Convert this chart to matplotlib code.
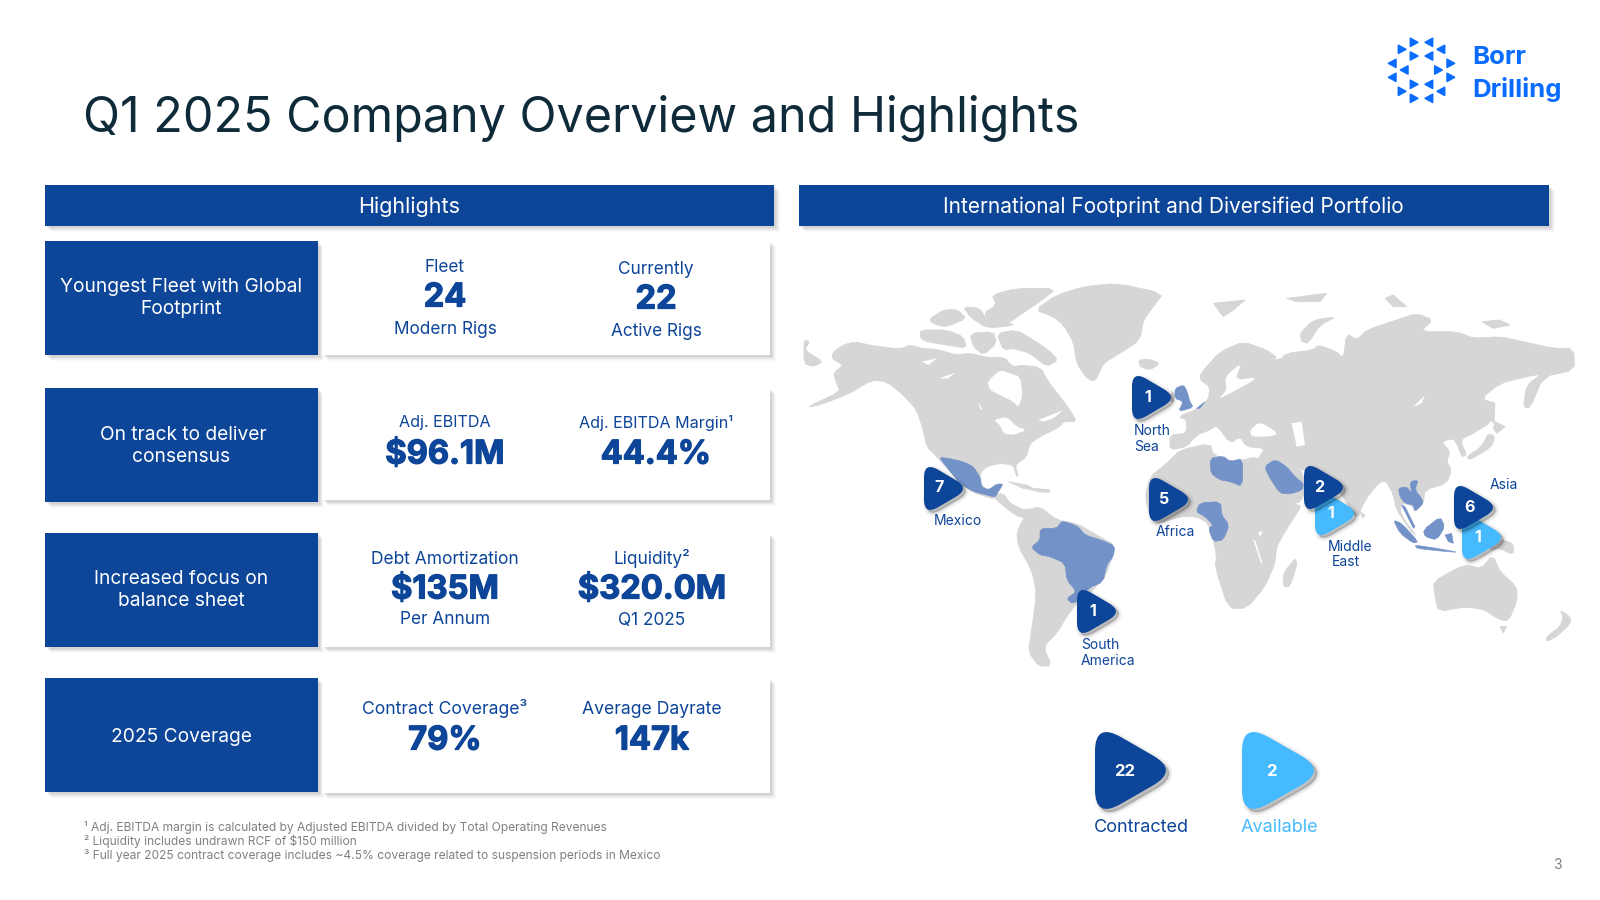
import matplotlib
matplotlib.use("Agg")
import matplotlib.pyplot as plt
import matplotlib.patheffects as pe
from matplotlib.patches import Rectangle, PathPatch, Polygon
from matplotlib.path import Path
from matplotlib.transforms import Affine2D

FONT = ["Inter", "DejaVu Sans"]
plt.rcParams["font.family"] = FONT

NAVY = "#0D4599"; SKY = "#45BAFF"; GREY = "#D6D6D6"; MAPBLUE = "#7292C8"; LOGO = "#0A6CFF"; TITLE = "#0F2B3A"

title = "Q1 2025 Company Overview and Highlights"
header_left = "Highlights"
header_right = "International Footprint and Diversified Portfolio"
row_titles = [["Youngest Fleet with Global", "Footprint"], ["On track to deliver", "consensus"],
              ["Increased focus on", "balance sheet"], ["2025 Coverage"]]
col1_top = ["Fleet", "Adj. EBITDA", "Debt Amortization", "Contract Coverage³"]
col1_val = ["24", "$96.1M", "$135M", "79%"]
col1_bot = ["Modern Rigs", "", "Per Annum", ""]
col2_top = ["Currently", "Adj. EBITDA Margin¹", "Liquidity²", "Average Dayrate"]
col2_val = ["22", "44.4%", "$320.0M", "147k"]
col2_bot = ["Active Rigs", "", "Q1 2025", ""]
footnotes = ["¹ Adj. EBITDA margin is calculated by Adjusted EBITDA divided by Total Operating Revenues",
             "² Liquidity includes undrawn RCF of $150 million",
             "³ Full year 2025 contract coverage includes ~4.5% coverage related to suspension periods in Mexico"]
contracted_total = 22
available_total = 2
region_contracted = {"Mexico": 7, "North Sea": 1, "Africa": 5, "Middle East": 2, "Asia": 6, "South America": 1}
region_available = {"Middle East": 1, "Asia": 1}

# World outline. Each group has its own origin; points are at 3x.
A, B, C, D = (800, 270), (1180, 270), (960, 460), (1180, 440)
land = [
 (A, [(100,245),(130,225),(165,215),(220,228),(300,237),(330,225),(365,235),(410,238),(470,255),(510,250),(560,262),(610,262),(640,285),(720,290),(745,335),(780,380),(810,420),(830,455),(790,455),(780,470),(720,500),(690,520),(680,560),(645,585),(655,615),(650,620),(640,585),(600,580),(560,590),(540,610),(545,650),(570,660),(590,690),(520,668),(480,640),(455,610),(415,565),(380,530),(370,480),(350,420),(310,375),(260,335),(215,330),(150,370),(60,405),(20,412),(120,365),(110,340),(100,310),(130,285),(95,265)]),
 (A, [(12,210),(30,215),(12,240),(70,275),(40,290),(12,280)]),
 (A, [(360,180),(440,180),(490,200),(500,235),(440,225),(380,215),(362,205)]),
 (A, [(385,150),(430,120),(470,118),(500,145),(440,170),(410,165)]),
 (A, [(575,75),(650,55),(770,55),(720,95),(660,135),(610,170),(580,170),(550,130),(590,105)]),
 (A, [(490,110),(540,115),(560,150),(600,155),(650,165),(560,175),(510,140)]),
 (A, [(590,190),(650,180),(700,210),(745,240),(775,270),(740,290),(690,250),(640,235),(610,240)]),
 (A, [(510,190),(580,185),(590,220),(550,255),(520,230)]),
 (A, [(705,120),(770,75),(850,50),(950,40),(1090,70),(1060,110),(1030,150),(1020,210),(960,250),(910,280),(885,335),(860,325),(830,280),(820,215),(790,165),(760,140)]),
 (A, [(1015,270),(1050,268),(1080,280),(1050,300),(1020,290)]),
 (C, [(95,105),(130,100),(150,130),(190,150),(215,145),(200,175),(170,168),(130,138)]),
 (C, [(145,65),(200,75),(240,95),(190,85)]),
 (C, [(225,85),(270,90),(268,97),(230,95)]),
 (C, [(170,215),(205,150),(240,140),(290,180),(350,190),(410,225),(465,255),(450,310),(440,340),(400,390),(350,430),(320,470),(290,520),(250,560),(275,618),(235,618),(205,575),(215,510),(230,400),(215,330),(175,260)]),
 (C, [(570,50),(620,10),(660,-30),(750,-50),(760,-15),(820,5),(895,-10),(905,20),(965,130),(1020,135),(1020,145),(975,215),(950,260),(945,310),(915,380),(860,445),(805,445),(765,320),(770,290),(760,240),(745,190),(710,170),(660,170),(600,190),(570,170),(555,110)]),
 (D, [(345,355),(352,370),(330,440),(310,440),(310,400)]),
 (D, [(760,425),(830,385),(860,375),(905,385),(938,345),(960,395),(1010,440),(1012,480),(985,545),(950,535),(915,510),(860,500),(775,515),(765,470)]),
 (D, [(960,560),(980,560),(970,578)]),
 (D, [(1140,510),(1170,530),(1172,550),(1130,590),(1100,605),(1100,590),(1140,560),(1150,530)]),
 (D, [(950,295),(1000,310),(1000,345),(960,325),(925,330)]),
 (D, [(540,215),(555,225),(548,235)]),
 (B, [(-30,540),(-30,495),(20,490),(20,450),(-5,440),(50,418),(85,390),(90,350),(60,330),(62,310),(120,245),(190,215),(260,240),(295,265),(250,265),(300,270),(320,250),(400,240),(415,225),(470,245),(490,265),(500,190),(530,210),(560,180),(650,150),(710,130),(760,150),(720,185),(830,185),(880,205),(960,200),(1030,215),(1120,235),(1180,235),(1185,300),(1090,320),(1050,415),(1030,410),(1040,345),(1085,312),(1040,320),(960,340),(905,385),(940,400),(935,455),(880,490),(840,510),(860,555),(845,560),(835,530),(820,505),(785,515),(810,545),(800,575),(815,600),(800,640),(735,660),(730,700),(705,725),(695,705),(665,700),(660,730),(710,800),(690,780),(650,720),(640,675),(620,635),(600,635),(555,690),(530,750),(490,680),(440,620),(365,600),(340,580),(370,610),(372,690),(310,715),(250,595),(235,565),(255,535),(200,530),(180,500),(150,520),(110,465),(90,480),(50,495),(20,530)]),
 (B, [(360,190),(400,150),(470,140),(420,165),(385,220),(365,215)]),
 (B, [(100,100),(195,90),(160,120),(130,140)]),
 (B, [(320,85),(440,70),(420,95),(350,95)]),
 (B, [(615,85),(640,75),(680,110),(640,110)]),
 (B, [(905,155),(960,150),(990,165),(940,175)]),
 (B, [(925,490),(945,500),(935,530),(870,570),(860,560),(905,530)]),
 (B, [(945,455),(975,470),(950,490),(940,475)]),
 (B, [(935,395),(945,400),(942,460),(932,450)]),
 (A, [(1115,365),(1125,372),(1120,395),(1108,392)]),
]
water = [
 (A, [(562,335),(600,300),(630,310),(660,320),(668,375),(655,412),(640,395),(600,375),(570,360)]),
 (A, [(640,240),(690,250),(680,280),(640,290),(620,270)]),
 (A, [(418,325),(465,308),(445,325)]),
 (A, [(365,275),(410,265),(385,285)]),
 (A, [(580,450),(620,440),(650,470),(680,480),(640,495),(610,490),(600,465)]),
 (A, [(535,395),(548,420),(540,415)]),
 (A, [(715,450),(790,420),(760,445),(730,455)]),
 (A, [(435,570),(445,578),(490,640),(478,640)]),
 (B, [(135,320),(185,278),(165,330),(235,322),(170,360),(115,388),(140,360)]),
 (B, [(210,480),(240,455),(295,490),(270,500),(215,500)]),
 (B, [(335,460),(365,455),(375,525),(350,530)]),
 (B, [(700,410),(735,375),(725,400)]),
 (C, [(895,215),(908,215),(900,230)]),
 (C, [(880,240),(885,240),(908,310),(903,310)]),
]
highlighted = [
 (A, [(418,562),(445,565),(490,575),(520,590),(540,620),(545,650),(565,660),(590,642),(610,642),(595,665),(585,682),(560,675),(520,665),(480,640),(455,610),(435,585)]),
 (C, [(213,262),(240,240),(240,205),(290,205),(305,183),(330,190),(355,200),(375,225),(425,240),(465,258),(460,290),(440,315),(430,365),(385,385),(350,425),(335,430),(320,415),(350,395),(320,360),(315,310),(270,290),(240,285)]),
 (B, [(90,565),(130,558),(150,575),(188,565),(188,650),(150,635),(120,630),(92,610)]),
 (C, [(708,155),(720,128),(782,125),(785,165),(808,195),(790,240),(760,245),(745,205),(760,195),(735,170)]),
 (B, [(253,590),(285,568),(320,590),(345,620),(370,640),(368,660),(330,672),(300,670),(270,625)]),
 (D, [(655,145),(680,140),(695,160),(690,125),(715,120),(705,150),(725,175),(730,190),(705,215),(700,195),(675,190),(660,170)]),
 (D, [(640,240),(665,250),(715,305),(700,310),(660,280)]),
 (D, [(730,270),(780,230),(795,260),(770,300),(735,290)]),
 (D, [(705,315),(770,325),(840,338),(770,332),(710,325)]),
 (D, [(795,285),(815,280),(820,310),(805,305)]),
 (D, [(665,195),(675,200),(705,260),(700,265)]),
 (A, [(1150,345),(1160,360),(1170,395),(1180,412),(1135,425),(1150,395),(1125,385),(1125,355)]),
 (B, [(50,415),(75,395),(60,415)]),
]

fig = plt.figure(figsize=(16, 9), dpi=100, facecolor="white")
ax = fig.add_axes([0, 0, 1, 1]); ax.set_xlim(0, 1600); ax.set_ylim(900, 0); ax.axis("off")

def T(a, x, y, s, size, color=NAVY, weight="normal", ha="center", heavy=0, **kw):
    t = a.text(x, y, s, fontsize=size, color=color, fontweight=weight, ha=ha, va="center", **kw)
    if heavy:
        t.set_path_effects([pe.withStroke(linewidth=heavy, foreground=color)])

def box(x0, y0, x1, y1, fc):
    for o, al in [(6, .03), (5, .04), (4, .05), (3, .07), (2, .08)]:
        ax.add_patch(Rectangle((x0 + o, y0 + o), x1 - x0, y1 - y0, fc="#555555", alpha=al, ec="none", zorder=1))
    ax.add_patch(Rectangle((x0, y0), x1 - x0, y1 - y0, fc=fc, ec="none", zorder=2))

def tri_path(x0, y0, x1, y1):
    d = .36; dx, dy = d * .857, d * .514
    v = [(0, d), (0, 0), (dx, dy), (1 - dx, .6 - dy), (1, .6), (1 - dx, .6 + dy), (dx, 1.2 - dy), (0, 1.2), (0, 1.2 - d), (0, d)]
    c = [Path.MOVETO, Path.CURVE3, Path.CURVE3, Path.LINETO, Path.CURVE3, Path.CURVE3, Path.LINETO, Path.CURVE3, Path.CURVE3, Path.CLOSEPOLY]
    p = Path(v, c)
    e = p.get_extents()
    return p.transformed(Affine2D().translate(-e.x0, -e.y0).scale((x1 - x0) / e.width, (y1 - y0) / e.height).translate(x0, y0))

def marker(x0, y0, x1, y1, color, off, z):
    p = tri_path(x0, y0, x1, y1)
    for lw, al in [(6, .02), (4.5, .03), (3, .045), (1.5, .06), (.5, .07)]:
        ax.add_patch(PathPatch(p.transformed(Affine2D().translate(off, off)), fc=(0, 0, 0, al), ec=(0, 0, 0, al), lw=lw, zorder=z))
    ax.add_patch(PathPatch(p, fc=color, ec="none", zorder=z + .1))

# title and logo
T(ax, 83, 118.5, title, 34.9, TITLE, ha="left")
right_tris = [(126,88),(162,67),(162,108),(272,130),(272,172),(235,150),(126,214),(162,193),(162,235)]
left_tris = [(207,67),(243,88),(207,108),(97,130),(97,172),(133,150),(243,214),(207,193),(207,235)]
for (zx, zy) in right_tris:
    x, y = 1360 + zx / 3, 20 + zy / 3
    ax.add_patch(Polygon([(x - 3.6, y - 4), (x + 3.8, y), (x - 3.6, y + 4)], fc=LOGO, ec=LOGO, lw=1.2, joinstyle="round"))
for (zx, zy) in left_tris:
    x, y = 1360 + zx / 3, 20 + zy / 3
    ax.add_patch(Polygon([(x + 3.6, y - 4), (x - 3.8, y), (x + 3.6, y + 4)], fc=LOGO, ec=LOGO, lw=1.2, joinstyle="round"))
T(ax, 1472, 57.5, "Borr", 18.6, LOGO, "bold", ha="left")
T(ax, 1472, 89, "Drilling", 18.6, LOGO, "bold", ha="left")

# headers
box(45, 185, 774, 226, NAVY); box(798.5, 185, 1549, 226, NAVY)
T(ax, 409, 206.5, header_left, 15.5, "white", zorder=5)
T(ax, 1173, 206.5, header_right, 15, "white", zorder=5)

# rows
tops = [241, 388, 533, 678]; bots = [355, 502, 647, 792]; cbots = [355, 500, 647, 793]
title_y = [[287.5, 309.5], [434.5, 456.5], [579.5, 600.5], [736.5]]
title_x = [[181, 181], [183, 181], [181, 181], [181]]
top_y = [[268, 270], [423, 423], [559, 559], [709, 710]]
val_y = [[298, 300], [455, 455], [590, 590], [741, 741]]
bot_y = [[329, 331], [0, 0], [620, 621], [0, 0]]
cx1 = [445, 445, 445, 445]; cx2 = [656, 656, 652, 652]
top_size = [12.4, 11.6, 12.5, 12.7]
for i in range(4):
    box(322, tops[i], 770, cbots[i], "white")
    box(45, tops[i], 318, bots[i], NAVY)
    for s, x, y in zip(row_titles[i], title_x[i], title_y[i]):
        T(ax, x, y, s, 13.8, "white", zorder=5)
    for x, a, b, c, ys in ((cx1[i], col1_top[i], col1_val[i], col1_bot[i], 0), (cx2[i], col2_top[i], col2_val[i], col2_bot[i], 1)):
        T(ax, x, top_y[i][ys], a, top_size[i], zorder=5)
        T(ax, x, val_y[i][ys], b, 23.5, weight="bold", heavy=.9, zorder=5)
        if c:
            T(ax, x, bot_y[i][ys], c, 12.4, zorder=5)

# footnotes and page number
for s, y in zip(footnotes, [827, 841, 855]):
    T(ax, 84, y, s, 8.65, "#808080", ha="left")
T(ax, 1557, 865, "3", 10, "#808080")

# map
def px(group, smooth=True):
    (ox, oy), pts = group
    pts = [(ox + x / 3, oy + y / 3) for x, y in pts]
    if not smooth or len(pts) < 5:
        return pts
    out = []
    for (x0, y0), (x1, y1) in zip(pts, pts[1:] + pts[:1]):
        out += [(.8 * x0 + .2 * x1, .8 * y0 + .2 * y1), (.2 * x0 + .8 * x1, .2 * y0 + .8 * y1)]
    return out
for g in land:
    ax.add_patch(Polygon(px(g), fc=GREY, ec=GREY, lw=.6, joinstyle="round", zorder=2))
for g in water:
    ax.add_patch(Polygon(px(g), fc="white", ec="none", zorder=2.5))
for g in highlighted:
    ax.add_patch(Polygon(px(g), fc=MAPBLUE, ec=MAPBLUE, lw=.4, joinstyle="round", zorder=3))

# (left, top) of each marker
pos_dark = {"Mexico": (924, 467), "North Sea": (1132, 376), "Africa": (1149, 478), "Middle East": (1304, 466), "Asia": (1454, 486), "South America": (1077, 590)}
pos_light = {"Middle East": (1315, 492), "Asia": (1462, 516)}
for k, v in region_available.items():
    x, y = pos_light[k]
    marker(x, y, x + 39, y + 43, SKY, 2.5, 4)
    T(ax, x + 15.5, y + 21, str(v), 11.5, "white", "bold", zorder=7)
for k, v in region_contracted.items():
    x, y = pos_dark[k]
    marker(x, y, x + 39, y + 43, NAVY, 2.5, 5)
    T(ax, x + 15.5, y + 21, str(v), 11.5, "white", "bold", zorder=7)
for s, x, y, ha in [("Mexico", 958, 521, "center"), ("North", 1134, 431, "left"), ("Sea", 1134, 447, "left"), ("Africa", 1175, 532, "center"),
                    ("Middle", 1350, 547, "center"), ("East", 1346, 562, "center"), ("Asia", 1504, 485, "center"),
                    ("South", 1081, 645, "left"), ("America", 1081, 661, "left")]:
    T(ax, x, y, s, 10, ha=ha, zorder=7)

# legend
marker(1095, 732, 1166, 809, NAVY, 3, 5)
marker(1242, 732, 1314, 809, SKY, 3, 5)
T(ax, 1125, 771, str(contracted_total), 12, "white", "bold", zorder=7)
T(ax, 1271, 771, str(available_total), 12, "white", "bold", zorder=7)
T(ax, 1141.5, 828, "Contracted", 13, NAVY)
T(ax, 1279, 828, "Available", 13, SKY)

fig.savefig("out.png", dpi=100)
